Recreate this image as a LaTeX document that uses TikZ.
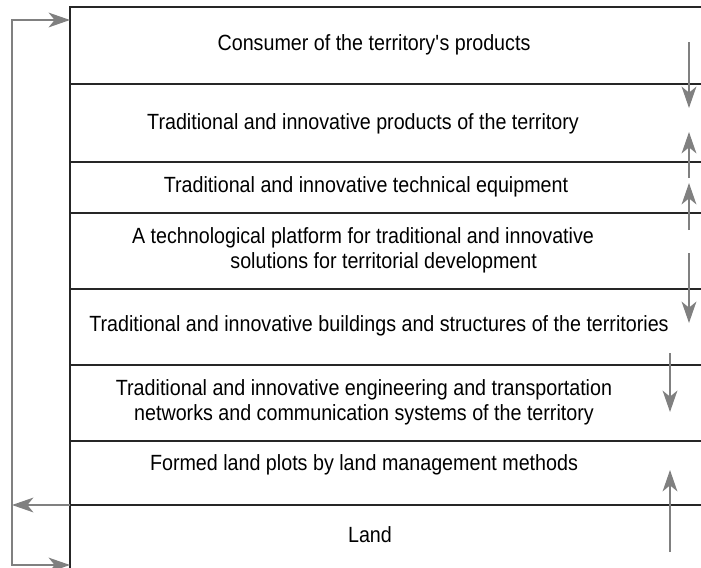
\documentclass[tikz,border=0pt]{standalone}
\usepackage{fontspec}
\setmainfont[FakeStretch=0.895]{Liberation Sans}
\usetikzlibrary{arrows.meta}

\tikzset{every picture/.style={line width=0.75pt}}
\tikzset{
  rowline/.style={draw=black!85, line width=0.9pt},
  flow/.style={draw=black!50, line width=1.8pt, -{Stealth[length=16pt,width=11pt,inset=4.5pt]}},
  rowtext/.style={font=\fontsize{16.5}{18.5}\selectfont, align=center, inner sep=0pt}
}

\begin{document}
\begin{tikzpicture}[x=0.75pt,y=0.75pt,yscale=-1,xscale=1]
\useasboundingbox (0,0) rectangle (701,568);

%Table frame
\draw [rowline] (701,7) -- (70,7) -- (70,568) ;
\foreach \yy in {84,162,213,289,365,441,505}
  \draw [rowline] (70,\yy) -- (701,\yy) ;

% Text Node
\draw (374,45) node (consumer) [rowtext] {Consumer of the territory\textquotesingle s products};
% Text Node
\draw (363,124) node (products) [rowtext] {Traditional and innovative products of the territory};
% Text Node
\draw (366,187) node (equipment) [rowtext] {Traditional and innovative technical equipment};
% Text Node
\draw (363,250) node (platform) [rowtext] {A technological platform for traditional and innovative\\ \hspace*{31pt}solutions for territorial development};
% Text Node
\draw (379,326) node (buildings) [rowtext] {Traditional and innovative buildings and structures of the territories};
% Text Node
\draw (364,402) node (networks) [rowtext] {Traditional and innovative engineering and transportation\\networks and communication systems of the territory};
% Text Node
\draw (364,465) node (plots) [rowtext] {Formed land plots by land management methods};
% Text Node
\draw (370,535) node (land) [rowtext] {Land};

%Feedback loop on the left
\coordinate (loopTop) at (70,20);
\coordinate (loopBot) at (70,565);
\coordinate (loopMid) at (12,300);
\draw [flow] (loopMid) |- (loopTop) ;
\draw [flow] (loopMid) |- (loopBot) ;
\draw [flow] (70,505) -- (12,505) ;

%Arrows on the right
\draw [flow] (689,42) -- (689,108) ;
\draw [flow] (689,178) -- (689,132) ;
\draw [flow] (689,230) -- (689,183) ;
\draw [flow] (689,253) -- (689,323) ;
\draw [flow] (670,353) -- (670,412) ;
\draw [flow] (670,552) -- (670,470) ;

\end{tikzpicture}
\end{document}
